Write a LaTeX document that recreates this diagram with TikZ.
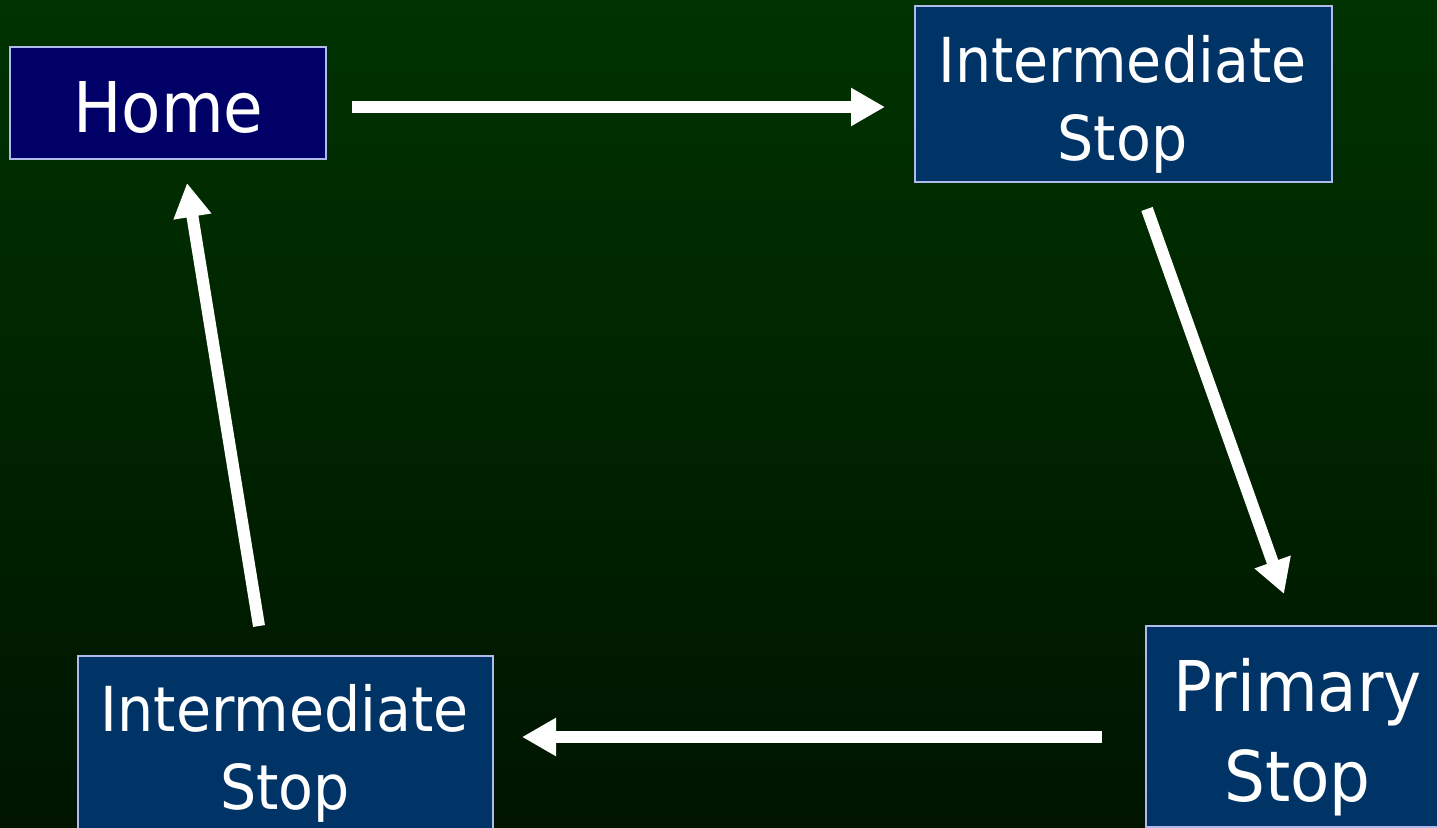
\documentclass[tikz,border=0pt]{standalone}
\usepackage{fontspec}
\setmainfont{DejaVu Sans}[FakeStretch=0.92]
\usetikzlibrary{arrows.meta}

\definecolor{bgtop}{RGB}{0,51,0}
\definecolor{bgbottom}{RGB}{0,20,0}
\definecolor{homefill}{RGB}{0,0,102}
\definecolor{stopfill}{RGB}{0,51,102}
\definecolor{boxline}{RGB}{176,186,236}

\tikzset{
  box/.style={draw=boxline, line width=1pt, inner sep=0pt},
  homebox/.style={box, fill=homefill},
  stopbox/.style={box, fill=stopfill},
  label/.style={text=white, inner sep=0pt, align=center},
  flow/.style={draw=white, line width=6pt,
    -{Triangle[length=17pt, width=18pt]}}
}

\begin{document}
% one unit = one pixel of a 1437 x 828 canvas, y growing downwards
\begin{tikzpicture}[x=0.5pt, y=-0.5pt]
  \useasboundingbox (0,0) rectangle (1437,828);
  \clip (0,0) rectangle (1437,828);
  \shade[top color=bgtop, bottom color=bgbottom] (0,0) rectangle (1437,828);

  % boxes
  \node[homebox, minimum width=158pt, minimum height=56pt] (home) at (168,103) {};
  \node[stopbox, minimum width=208.5pt, minimum height=88pt] (inter1) at (1123.5,94) {};
  \node[stopbox, minimum width=152pt, minimum height=100.5pt] (primary) at (1298,726.5) {};
  \node[stopbox, minimum width=207.5pt, minimum height=92pt] (inter2) at (285.5,748) {};

  % captions
  \node[label, font=\fontsize{35pt}{42pt}\selectfont] (homet) at (168.5,107.5) {Home};
  \node[label, font=\fontsize{31pt}{39pt}\selectfont] (inter1t) at (1122.5,104.5) {Intermediate\\Stop};
  \node[label, font=\fontsize{35pt}{45pt}\selectfont] (primaryt) at (1297.5,737) {Primary\\Stop};
  \node[label, font=\fontsize{31pt}{39pt}\selectfont] (inter2t) at (285,753) {Intermediate\\Stop};

  % connector end points
  \coordinate (a1s) at (352,107);
  \coordinate (a1e) at (885,107);
  \coordinate (a2s) at (1147,209);
  \coordinate (a2e) at (1284,594);
  \coordinate (a3s) at (1102,737);
  \coordinate (a3e) at (522,737);
  \coordinate (a4s) at (259,626);
  \coordinate (a4e) at (187,183);

  % the round trip
  \draw[flow] (a1s) -- (a1e);
  \draw[flow] (a2s) -- (a2e);
  \draw[flow] (a3s) -- (a3e);
  \draw[flow] (a4s) -- (a4e);
\end{tikzpicture}
\end{document}
